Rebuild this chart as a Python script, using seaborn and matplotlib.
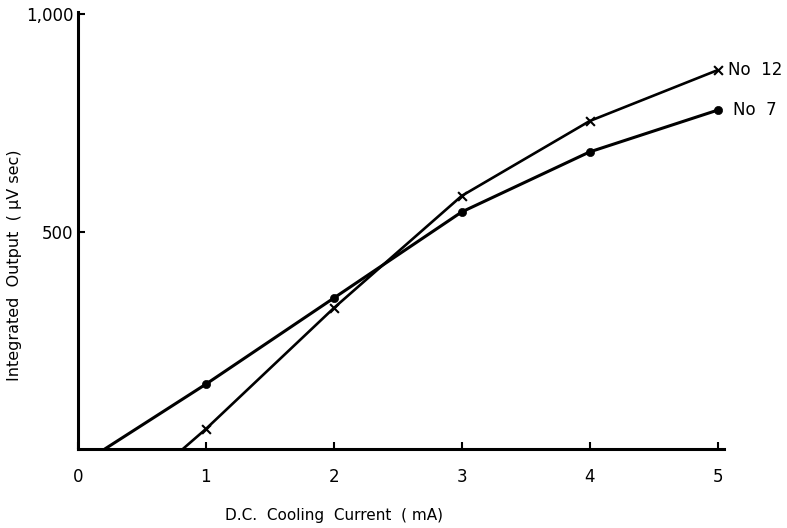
import numpy as np
import pandas as pd
import seaborn as sns
import matplotlib
matplotlib.use('Agg')
import matplotlib.pyplot as plt

# Values
current = [1, 2, 3, 4, 5]
no7_output = [149, 347, 545, 683, 779]
no12_output = [46, 324, 582, 754, 871]
# where each curve leaves the x axis
no7_start = 0.21
no12_start = 0.82

sns.set_theme(style='white')
plt.rcParams['font.family'] = ['DejaVu Sans']
plt.rcParams['text.color'] = 'black'
plt.rcParams['axes.labelcolor'] = 'black'

no7 = pd.DataFrame({'current': [no7_start] + current, 'output': [0] + no7_output})
no12 = pd.DataFrame({'current': [no12_start] + current, 'output': [0] + no12_output})

fig = plt.figure(figsize=(7.87, 5.28), dpi=100)
ax = fig.add_axes([0.099, 0.1496, 0.821, 0.828])

# curves
sns.lineplot(data=no7, x='current', y='output', color='black', linewidth=2.2, ax=ax)
sns.lineplot(data=no12, x='current', y='output', color='black', linewidth=1.9, ax=ax)
# markers on measured points
sns.scatterplot(x=current, y=no7_output, marker='o', s=35, color='black',
                edgecolor='black', ax=ax, zorder=5)
sns.scatterplot(x=current, y=no12_output, marker='x', s=40, color='black',
                linewidth=1.5, ax=ax, zorder=5)

ax.set_xlim(0, 5.05)
ax.set_ylim(0, 1005)

ax.set_xticks([0, 1, 2, 3, 4, 5])
ax.set_xticklabels(['0', '1', '2', '3', '4', '5'])
ax.set_yticks([500, 1000])
ax.set_yticklabels(['500', '1,000'])
ax.tick_params(axis='both', direction='in', length=5, width=1.5, colors='black',
               labelsize=12, pad=14)
ax.tick_params(axis='y', pad=3)
ax.tick_params(axis='x', bottom=True)
ax.tick_params(axis='y', left=True)

for side in ['top', 'right']:
    ax.spines[side].set_visible(False)
for side in ['left', 'bottom']:
    ax.spines[side].set_color('black')
    ax.spines[side].set_linewidth(2.2)

ax.set_xlabel('D.C.  Cooling  Current  ( mA)', fontsize=11)
ax.xaxis.set_label_coords(0.396, -0.135)
ax.set_ylabel('Integrated  Output  ( μV sec)', fontsize=11.5)
ax.yaxis.set_label_coords(-0.087, 0.42)

# curve labels
ax.text(5.08, 871, 'No  12', fontsize=12, va='center', ha='left', clip_on=False)
ax.text(5.12, 779, 'No  7', fontsize=12, va='center', ha='left', clip_on=False)

plt.savefig('out.png', dpi=100)
